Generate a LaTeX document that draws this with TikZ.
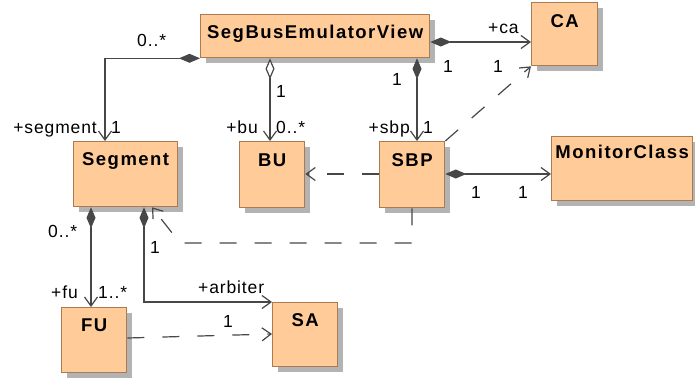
\documentclass[tikz,border=0pt]{standalone}
\usepackage{fontspec}
\setmainfont{Liberation Sans}[LetterSpace=8]
\usetikzlibrary{arrows.meta,shadows,calc}
\definecolor{boxfill}{HTML}{FFCC99}
\definecolor{boxline}{HTML}{A87B50}
\definecolor{shade}{HTML}{B3B3B3}
\definecolor{wire}{HTML}{474747}
\begin{document}
\begin{tikzpicture}[x=1pt,y=-1pt,
  cls/.style={draw=boxline, fill=boxfill, line width=1.3pt, inner sep=0pt, anchor=north west,
    drop shadow={shadow xshift=5pt, shadow yshift=-5pt, fill=shade, opacity=1}},
  ttl/.style={font=\fontsize{18.5}{20}\selectfont\bfseries, inner sep=0pt, anchor=base},
  lbl/.style={font=\fontsize{17.5}{19}\selectfont\addfontfeature{LetterSpace=5}, inner sep=0pt},
  lw/.style={lbl, anchor=base west},
  le/.style={lbl, anchor=base east},
  link/.style={draw=wire, line width=1.2pt},
  barb/.tip={Straight Barb[length=9pt,width=13pt]},
  comp/.style={link, {Diamond[length=21pt,width=9pt]}-{barb}},
  aggr/.style={link, {Diamond[length=21pt,width=9pt,fill=white]}-{barb}},
  dep/.style={link, dash pattern=on 17pt off 18pt, -{barb}},
]
\useasboundingbox (0,0) rectangle (695,378);

% class boxes
\node[cls, minimum width=229pt, minimum height=43pt] (sbv) at (200,14) {};
\node[cls, minimum width=66pt,  minimum height=63pt] (ca)  at (531,2) {};
\node[cls, minimum width=104pt, minimum height=65pt] (seg) at (73,141) {};
\node[cls, minimum width=65pt,  minimum height=66pt] (bu)  at (239,141) {};
\node[cls, minimum width=65pt,  minimum height=66pt] (sbp) at (379,141) {};
\node[cls, minimum width=141pt, minimum height=64pt] (mon) at (551,136) {};
\node[cls, minimum width=65pt,  minimum height=65pt] (fu)  at (61,307) {};
\node[cls, minimum width=65pt,  minimum height=64pt] (sa)  at (272,302) {};

% class names
\node[ttl] (sbvT) at ($(sbv.north)+(0,24.5)$) {SegBusEmulatorView};
\node[ttl] (caT)  at ($(ca.north)+(0,25)$)    {CA};
\node[ttl] (segT) at ($(seg.north)+(0,24.5)$) {Segment};
\node[ttl] (buT)  at ($(bu.north)+(0,25)$)    {BU};
\node[ttl] (sbpT) at ($(sbp.north)+(0,25.5)$) {SBP};
\node[ttl] (monT) at ($(mon.north)+(0,22.5)$) {MonitorClass};
\node[ttl] (fuT)  at ($(fu.north)+(0,24)$)    {FU};
\node[ttl] (saT)  at ($(sa.north)+(0,24)$)    {SA};

% associations
\draw[comp] (sbv.south west) -| ($(seg.north west)+(32,0)$);
\draw[aggr] (270,0 |- sbv.south) -- (270,0 |- bu.north);
\draw[comp] (sbv.east |- 0,42) -- (ca.west |- 0,42);
\draw[comp] (417,0 |- sbv.south) -- (417,0 |- sbp.north);
\draw[comp] (sbp.east |- 0,174) -- (mon.west |- 0,174);
\draw[comp] (91,0 |- seg.south) -- (91,0 |- fu.north);
\draw[comp] (144,0 |- seg.south) |- (sa.north west);

% dependencies
\draw[dep] (sbp.north east) -- (ca.south west);
\draw[dep] (sbp.west |- 0,174) -- (bu.east |- 0,174);
\draw[dep] (412,0 |- sbp.south) -- (412,243) -- (180,243) -- (152,0 |- seg.south);
\draw[dep] (fu.east |- 0,338) -- (sa.west |- 0,334);

% role names and multiplicities
\node[lw] (m1)  at (137,46.5) {0..*};
\node[le] (r1)  at (97,133)   {+segment};
\node[lw] (m2)  at (111,133)  {1};
\node[lw] (m3)  at (276,97)   {1};
\node[le] (r2)  at (258,133)  {+bu};
\node[lw] (m4)  at (276,133)  {0..*};
\node[lw] (r3)  at (488,33)   {+ca};
\node[lw] (m5)  at (443,72)   {1};
\node[lw] (m6)  at (493,72)   {1};
\node[lw] (m7)  at (392,85)   {1};
\node[le] (r4)  at (410,133)  {+sbp};
\node[lw] (m8)  at (423,133)  {1};
\node[lw] (m9)  at (471,198)  {1};
\node[lw] (m10) at (518,198)  {1};
\node[lw] (m11) at (48,237)   {0..*};
\node[lw] (m12) at (150,253)  {1};
\node[lw] (r5)  at (51,298)   {+fu};
\node[lw] (m13) at (98,298)   {1..*};
\node[lw] (r6)  at (198,293)  {+arbiter};
\node[lw] (m14) at (223,327)  {1};
\end{tikzpicture}
\end{document}
